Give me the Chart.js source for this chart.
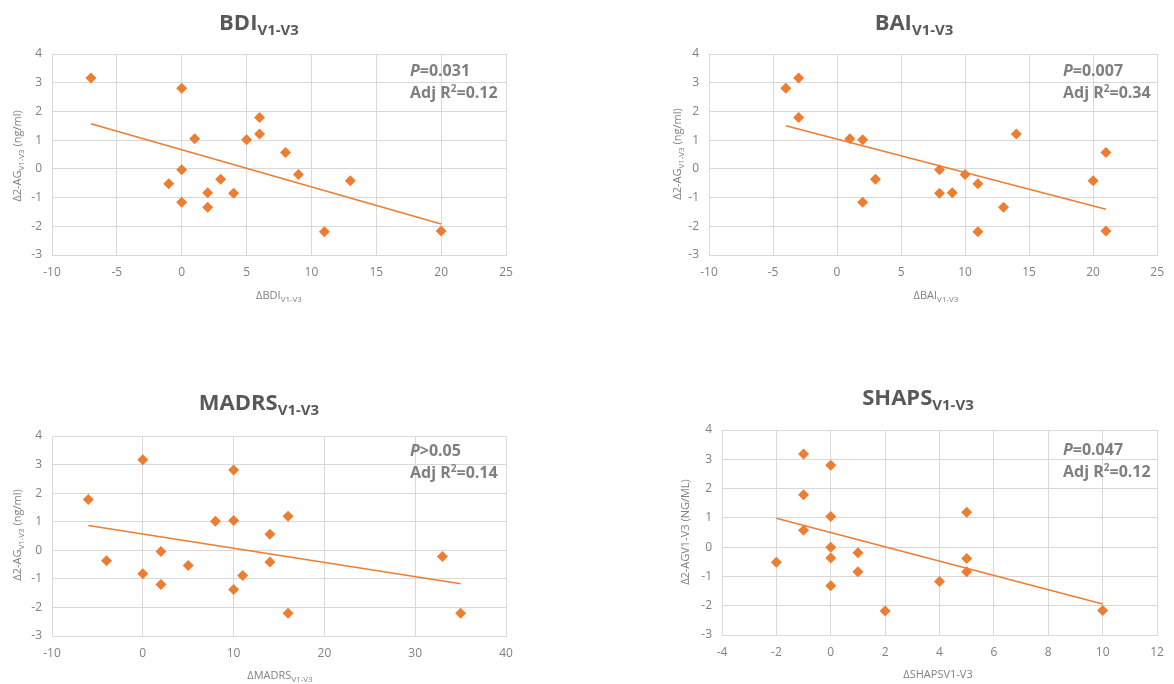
<!DOCTYPE html>
<html>
<head>
<meta charset="utf-8">
<script src="https://cdn.jsdelivr.net/npm/chart.js@4.4.1/dist/chart.umd.min.js"></script>
<style>
  body { margin: 0; background: #fff; }
  #wrap { position: relative; width: 1174px; height: 684px; background: #fff; }
  .cell { position: absolute; width: 587px; height: 342px; }
</style>
</head>
<body>
<div id="wrap">
  <div class="cell" style="left:0;top:0"><canvas id="c1" width="587" height="342"></canvas></div>
  <div class="cell" style="left:587px;top:0"><canvas id="c2" width="587" height="342"></canvas></div>
  <div class="cell" style="left:0;top:342px"><canvas id="c3" width="587" height="342"></canvas></div>
  <div class="cell" style="left:587px;top:342px"><canvas id="c4" width="587" height="342"></canvas></div>
</div>
<script>
// values
const bdiX = [-7, 0, 0, 0, -1, 1, 2, 2, 3, 4, 5, 6, 6, 8, 9, 11, 13, 20];
const bdiY = [3.16, 2.81, -0.03, -1.16, -0.52, 1.05, -0.83, -1.34, -0.36, -0.85, 1.01, 1.79, 1.21, 0.57, -0.2, -2.19, -0.41, -2.16];
const bdiTrendX = [-7, 20];
const bdiTrendY = [1.57, -1.92];

const baiX = [-4, -3, -3, 1, 2, 2, 3, 8, 8, 9, 10, 11, 11, 13, 14, 20, 21, 21];
const baiY = [2.81, 3.16, 1.79, 1.05, 1.01, -1.16, -0.36, -0.03, -0.85, -0.83, -0.2, -0.52, -2.19, -1.34, 1.21, -0.41, 0.57, -2.16];
const baiTrendX = [-4, 21];
const baiTrendY = [1.5, -1.41];

const madrsX = [-6, -4, 0, 0, 2, 2, 5, 8, 10, 10, 10, 11, 14, 14, 16, 16, 33, 35];
const madrsY = [1.78, -0.37, 3.17, -0.82, -0.04, -1.2, -0.53, 1.02, 2.81, 1.04, -1.37, -0.88, 0.56, -0.41, 1.19, -2.2, -0.22, -2.2];
const madrsTrendX = [-6, 35];
const madrsTrendY = [0.87, -1.17];

const shapsX = [-2, -1, -1, -1, 0, 0, 0, 0, 0, 1, 1, 2, 4, 5, 5, 5, 10];
const shapsY = [-0.52, 3.18, 1.79, 0.58, 2.8, 1.05, 0.0, -0.37, -1.32, -0.19, -0.84, -2.18, -1.17, 1.19, -0.39, -0.84, -2.16];
const shapsTrendX = [-2, 10];
const shapsTrendY = [0.99, -1.94];

const yTicks = { min: -3, max: 4, step: 1 };

const ORANGE = '#ED7D31';
const FONT = "'Open Sans', sans-serif";

function toPoints(xs, ys) {
    return xs.map((x, i) => ({ x: x, y: ys[i] }));
}

function fontOf(p) {
    return (p.italic ? 'italic ' : '') + (p.bold ? 'bold ' : '') + p.size + 'px ' + FONT;
}

// draws text made of several runs (sub/superscripts)
function richText(ctx, parts, x, y, align) {
    let w = 0;
    parts.forEach(p => { ctx.font = fontOf(p); w += ctx.measureText(p.t).width; });
    let cx = align === 'center' ? x - w / 2 : x;
    parts.forEach(p => {
        ctx.font = fontOf(p);
        ctx.fillText(p.t, cx, y + (p.dy || 0));
        cx += ctx.measureText(p.t).width;
    });
}

const panelText = {
    id: 'panelText',
    afterDraw(chart, args, o) {
        const ctx = chart.ctx;
        ctx.save();
        ctx.textBaseline = 'alphabetic';

        // title
        ctx.fillStyle = '#595959';
        richText(ctx, [
            { t: o.name, size: 22, bold: true },
            { t: 'V1-V3', size: 15, bold: true, dy: 5 }
        ], o.titleX, o.titleY, 'center');

        // x axis title
        ctx.fillStyle = '#808080';
        richText(ctx, o.xTitle, o.xTitleX, o.xTitleY, 'center');

        // y axis title
        ctx.save();
        ctx.translate(o.yTitleX, o.yTitleY);
        ctx.rotate(-Math.PI / 2);
        richText(ctx, o.yTitle, 0, 4, 'center');
        ctx.restore();

        // stats
        ctx.fillStyle = '#7f7f7f';
        richText(ctx, [
            { t: 'P', size: 16, bold: true, italic: true },
            { t: o.p, size: 16, bold: true }
        ], o.statX, o.statY, 'left');
        richText(ctx, [
            { t: 'Adj R', size: 16, bold: true },
            { t: '2', size: 10, bold: true, dy: -6 },
            { t: '=' + o.r2, size: 16, bold: true }
        ], o.statX, o.statY + 22, 'left');
        ctx.restore();
    }
};

const subTitle = (main) => [
    { t: main, size: 11 },
    { t: 'V1-V3', size: 8, dy: 3 }
];
const yTitleSub = [
    { t: '\u03942-AG', size: 11 },
    { t: 'V1-V3', size: 8, dy: 3 },
    { t: ' (ng/ml)', size: 11 }
];

const panels = [
    { id: 'c1', name: 'BDI', xs: bdiX, ys: bdiY, tx: bdiTrendX, ty: bdiTrendY,
      xMin: -10, xMax: 25, xStep: 5, p: '=0.031', r2: '0.12',
      area: { l: 52, r: 506, t: 54, b: 255 },
      titleX: 259, titleY: 30, xTitle: subTitle('\u0394BDI'), xTitleX: 279, xTitleY: 299,
      yTitle: yTitleSub, yTitleX: 17, yTitleY: 156, statX: 410, statY: 76 },
    { id: 'c2', name: 'BAI', xs: baiX, ys: baiY, tx: baiTrendX, ty: baiTrendY,
      xMin: -10, xMax: 25, xStep: 5, p: '=0.007', r2: '0.34',
      area: { l: 122, r: 575, t: 54, b: 255 },
      titleX: 327, titleY: 30, xTitle: subTitle('\u0394BAI'), xTitleX: 349, xTitleY: 299,
      yTitle: yTitleSub, yTitleX: 90, yTitleY: 154, statX: 476, statY: 76 },
    { id: 'c3', name: 'MADRS', xs: madrsX, ys: madrsY, tx: madrsTrendX, ty: madrsTrendY,
      xMin: -10, xMax: 40, xStep: 10, p: '>0.05', r2: '0.14',
      area: { l: 52, r: 506, t: 94, b: 294 },
      titleX: 259, titleY: 68, xTitle: subTitle('\u0394MADRS'), xTitleX: 280, xTitleY: 337,
      yTitle: yTitleSub, yTitleX: 17, yTitleY: 193, statX: 410, statY: 114 },
    { id: 'c4', name: 'SHAPS', xs: shapsX, ys: shapsY, tx: shapsTrendX, ty: shapsTrendY,
      xMin: -4, xMax: 12, xStep: 2, p: '=0.047', r2: '0.12',
      area: { l: 135, r: 570, t: 88, b: 293 },
      titleX: 331, titleY: 63, xTitle: [{ t: '\u0394SHAPSV1-V3', size: 11 }], xTitleX: 351, xTitleY: 336,
      yTitle: [{ t: '\u03942-AGV1-V3 (NG/ML)', size: 11 }], yTitleX: 98, yTitleY: 190, statX: 476, statY: 113 }
];

const Y_W = 40, X_H = 30;

panels.forEach(cfg => {
    const canvas = document.getElementById(cfg.id);
    const a = cfg.area;
    new Chart(canvas.getContext('2d'), {
        type: 'scatter',
        data: {
            datasets: [{
                data: toPoints(cfg.xs, cfg.ys),
                pointStyle: 'rectRot',
                pointRadius: 5.5,
                pointHoverRadius: 5.5,
                backgroundColor: ORANGE,
                borderColor: ORANGE,
                borderWidth: 0
            }, {
                data: toPoints(cfg.tx, cfg.ty),
                showLine: true,
                pointRadius: 0,
                borderColor: ORANGE,
                borderWidth: 1.5
            }]
        },
        options: {
            responsive: false,
            animation: false,
            devicePixelRatio: 1,
            layout: {
                padding: { left: a.l - Y_W, right: 587 - a.r, top: a.t, bottom: 342 - a.b - X_H }
            },
            scales: {
                x: {
                    type: 'linear',
                    min: cfg.xMin, max: cfg.xMax,
                    ticks: { stepSize: cfg.xStep, color: '#808080', font: { family: FONT, size: 12 }, padding: 10 },
                    grid: { color: '#d9d9d9', drawTicks: false },
                    border: { color: '#d9d9d9' },
                    afterFit(scale) { scale.height = X_H; }
                },
                y: {
                    min: yTicks.min, max: yTicks.max,
                    ticks: { stepSize: yTicks.step, color: '#808080', font: { family: FONT, size: 12 }, padding: 10 },
                    grid: { color: '#d9d9d9', drawTicks: false },
                    border: { color: '#d9d9d9' },
                    afterFit(scale) { scale.width = Y_W; }
                }
            },
            plugins: {
                legend: { display: false },
                tooltip: { enabled: false },
                panelText: cfg
            }
        },
        plugins: [panelText]
    });
});
</script>
</body>
</html>
